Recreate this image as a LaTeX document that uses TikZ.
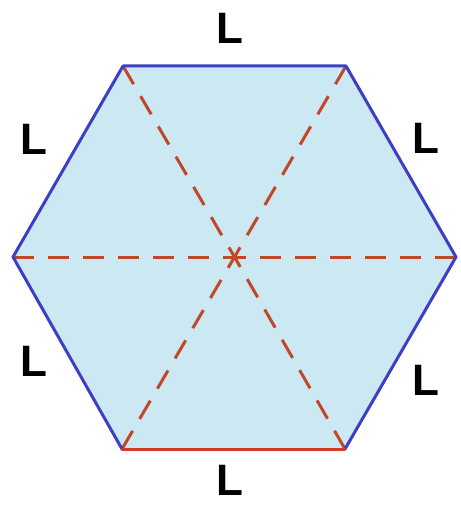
\documentclass[tikz,border=0pt]{standalone}
\usepackage{fontspec}
\setmainfont{Liberation Sans}
\definecolor{hexfill}{RGB}{204,232,242}
\definecolor{hexedge}{RGB}{62,62,196}
\definecolor{diag}{RGB}{192,72,42}
\definecolor{baseedge}{RGB}{205,62,40}
\tikzset{
  lab/.style={font=\fontsize{44}{44}\selectfont\bfseries, inner sep=0pt, text=black},
  edge/.style={draw=hexedge, line width=3pt, line cap=round, line join=round},
  diagline/.style={draw=diag, line width=3pt, dash pattern=on 21pt off 14pt},
}
\begin{document}
\begin{tikzpicture}[x=1pt,y=-1pt]
\useasboundingbox (0,0) rectangle (460,505);
\coordinate (TL) at (123,66);
\coordinate (TR) at (346,66);
\coordinate (R) at (456,257);
\coordinate (BR) at (345,449);
\coordinate (BL) at (122,449);
\coordinate (Lf) at (13,257);
\coordinate (C) at (234.5,257);
\fill[hexfill] (TL) -- (TR) -- (R) -- (BR) -- (BL) -- (Lf) -- cycle;
\draw[diagline] (Lf) -- (C);
\draw[diagline] (R) -- (C);
\draw[diagline] (TL) -- (C);
\draw[diagline] (BR) -- (C);
\draw[diagline] (TR) -- (C);
\draw[diagline] (BL) -- (C);
\draw[edge] (BL) -- (Lf) -- (TL) -- (TR) -- (R) -- (BR);
\draw[draw=baseedge, line width=3pt, line cap=round] (BL) -- (BR);
\node[lab] (l1) at (230,28) {L};
\node[lab] (l2) at (34,139) {L};
\node[lab] (l3) at (426,138) {L};
\node[lab] (l4) at (34,361) {L};
\node[lab] (l5) at (426,380) {L};
\node[lab] (l6) at (230,480) {L};
\end{tikzpicture}
\end{document}
